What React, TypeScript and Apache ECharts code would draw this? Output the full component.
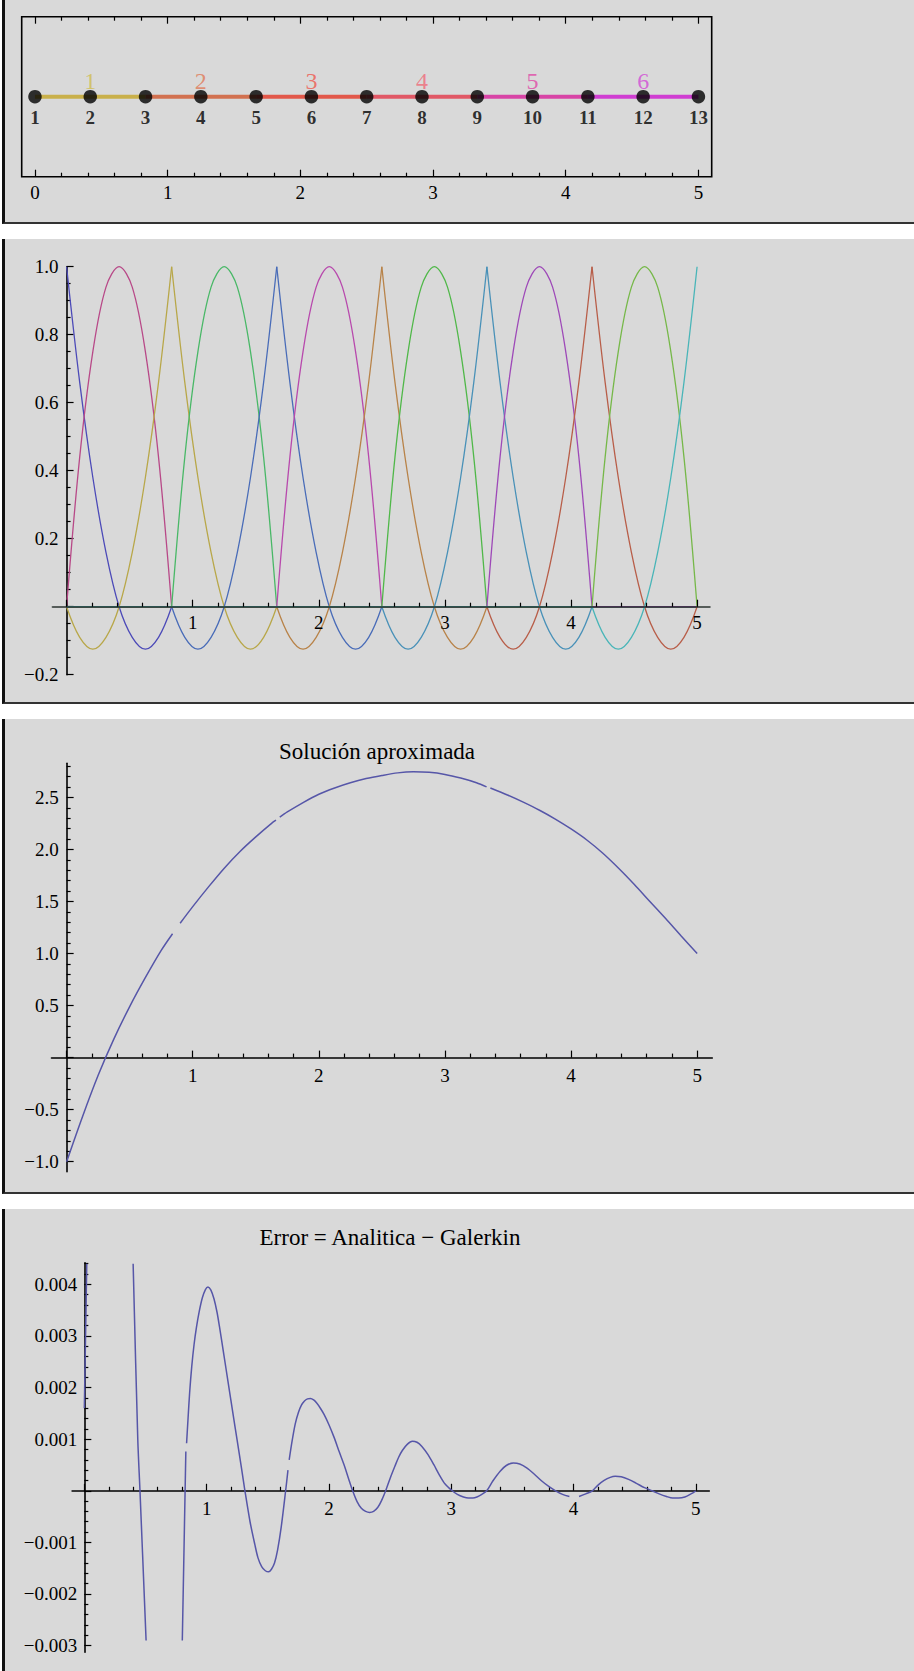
import React, { useEffect, useRef } from 'react';
import * as echarts from 'echarts';

const W = 914;
const H = 1671;
const FONT = "'Liberation Serif', 'Times New Roman', 'DejaVu Serif', serif";

// ---------- Panel 1: mesh (13 nodes, 6 quadratic elements) ----------
const NODE_X = [0, 0.4167, 0.8333, 1.25, 1.6667, 2.0833, 2.5, 2.9167, 3.3333, 3.75, 4.1667, 4.5833, 5];
const NODE_LABELS = ['1', '2', '3', '4', '5', '6', '7', '8', '9', '10', '11', '12', '13'];
const ELEMENT_LABELS = ['1', '2', '3', '4', '5', '6'];
const ELEMENT_LINE_COLORS = ['#c9b04a', '#d27150', '#e2584a', '#e15866', '#d844a6', '#d03ed2'];
const ELEMENT_LABEL_COLORS = ['#d0bc50', '#e07a58', '#ee5a50', '#f06a78', '#e048a6', '#d24cd6'];
const MESH_X_TICKS = [0, 1, 2, 3, 4, 5];

// ---------- Panel 2: basis functions (values read at local positions inside an element) ----------
const BASIS_COLORS = ['#4c4ab8', '#b84988', '#b8a749', '#49b867', '#496cb8', '#b849ad', '#b88349',
  '#50b849', '#4991b8', '#9e49b8', '#b85e49', '#76b849', '#49b5b8'];
const LOCAL_XI = [0, 0.125, 0.25, 0.375, 0.5, 0.625, 0.75, 0.875, 1];
const SHAPE_MID = [0, 0.44, 0.75, 0.94, 1, 0.94, 0.75, 0.44, 0];
const SHAPE_START = [1, 0.66, 0.38, 0.16, 0, -0.09, -0.125, -0.09, 0];
const SHAPE_END = [0, -0.09, -0.125, -0.09, 0, 0.16, 0.38, 0.66, 1];

// ---------- Panel 3: approximate solution ('-' = gap in the drawn curve) ----------
const SOLUTION: [number, number | string][] = [
  [0, -1.0], [0.125, -0.57], [0.25, -0.17], [0.375, 0.18], [0.5, 0.49], [0.625, 0.77], [0.75, 1.03],
  [0.84, 1.19], [0.87, '-'], [0.9, 1.29], [1.0, 1.45], [1.125, 1.64], [1.25, 1.82], [1.375, 1.98],
  [1.5, 2.12], [1.625, 2.25], [1.66, 2.28], [1.675, '-'], [1.69, 2.31], [1.75, 2.36], [1.875, 2.45],
  [2.0, 2.53], [2.125, 2.59], [2.25, 2.64], [2.375, 2.68], [2.5, 2.71], [2.625, 2.735], [2.75, 2.745],
  [2.875, 2.74], [3.0, 2.72], [3.125, 2.685], [3.25, 2.64], [3.33, 2.6], [3.345, '-'], [3.36, 2.59],
  [3.5, 2.52], [3.625, 2.451], [3.75, 2.376], [3.875, 2.291], [4.0, 2.196], [4.125, 2.09], [4.25, 1.965],
  [4.375, 1.821], [4.5, 1.665], [4.625, 1.5], [4.75, 1.336], [4.875, 1.166], [5.0, 1.0],
];

// ---------- Panel 4: error ('-' = gap / clipped part) ----------
const ERROR: [number, number | string][] = [
  [0.0, 0.0016], [0.02, 0.0044], [0.2, '-'],
  [0.399, 0.0044], [0.437, 0.001], [0.455, 0], [0.505, -0.0029], [0.65, '-'],
  [0.801, -0.0029], [0.83, 0.00076], [0.833, '-'],
  [0.836, 0.00092], [0.848, 0.0014], [0.861, 0.0019], [0.878, 0.0024], [0.897, 0.00283],
  [0.917, 0.00317], [0.94, 0.00348], [0.965, 0.00374], [0.99, 0.0039], [1.011, 0.00395],
  [1.035, 0.00389], [1.06, 0.00372], [1.085, 0.00346], [1.105, 0.00318], [1.14, 0.00265],
  [1.177, 0.00208], [1.215, 0.0015], [1.25, 0.00097], [1.285, 0.00044], [1.313, 0],
  [1.355, -0.0006], [1.394, -0.00104], [1.42, -0.0013], [1.45, -0.00147], [1.48, -0.00155],
  [1.507, -0.00157], [1.53, -0.00152], [1.555, -0.0014], [1.58, -0.00115], [1.61, -0.0007],
  [1.646, 0], [1.665, 0.0004], [1.67, '-'],
  [1.675, 0.0006], [1.7, 0.00098], [1.725, 0.0013], [1.751, 0.00152], [1.775, 0.00166],
  [1.8, 0.00174], [1.825, 0.00178], [1.849, 0.00179], [1.875, 0.00176], [1.9, 0.0017],
  [1.93, 0.0016], [1.96, 0.00148], [2.0, 0.00128], [2.043, 0.00103], [2.085, 0.00075],
  [2.127, 0.00048], [2.16, 0.00024], [2.194, 0], [2.23, -0.00021], [2.265, -0.00034],
  [2.3, -0.0004], [2.333, -0.00042], [2.365, -0.0004], [2.4, -0.00032], [2.43, -0.00019],
  [2.464, 0], [2.5, 0.00024], [2.54, 0.00048], [2.57, 0.00065], [2.6, 0.00078], [2.64, 0.0009],
  [2.682, 0.00096], [2.72, 0.00094], [2.76, 0.00086], [2.81, 0.0007], [2.859, 0.0005],
  [2.9, 0.00032], [2.95, 0.00013], [3.008, 0], [3.05, -0.00007], [3.1, -0.00012], [3.14, -0.00014],
  [3.177, -0.00014], [3.21, -0.00012], [3.25, -0.00007], [3.29, 0], [3.34, 0.00019], [3.4, 0.00038],
  [3.45, 0.00049], [3.508, 0.00054], [3.56, 0.00052], [3.62, 0.00044], [3.68, 0.00032],
  [3.74, 0.00019], [3.8, 0.00008], [3.853, 0], [3.91, -0.00007], [3.966, -0.00011], [4.0, '-'],
  [4.045, -0.00011], [4.1, -0.00006], [4.154, 0], [4.2, 0.00011], [4.25, 0.0002], [4.3, 0.00026],
  [4.341, 0.00028], [4.39, 0.00027], [4.45, 0.00022], [4.51, 0.00015], [4.58, 0.00006], [4.642, 0],
  [4.7, -0.00006], [4.76, -0.00011], [4.81, -0.00014], [4.859, -0.00014], [4.91, -0.00012],
  [4.96, -0.00006], [5.0, 0],
];

// ---------- Tick values ----------
const X_MAJOR = [0, 1, 2, 3, 4, 5];
const X_LABELS = [1, 2, 3, 4, 5];
const X_MINOR = [0.2, 0.4, 0.6, 0.8, 1.2, 1.4, 1.6, 1.8, 2.2, 2.4, 2.6, 2.8, 3.2, 3.4, 3.6, 3.8, 4.2, 4.4, 4.6, 4.8];
const Y2_MAJOR = [-0.2, 0, 0.2, 0.4, 0.6, 0.8, 1.0];
const Y2_LABELS = [-0.2, 0.2, 0.4, 0.6, 0.8, 1.0];
const Y3_MAJOR = [-1.0, -0.5, 0, 0.5, 1.0, 1.5, 2.0, 2.5];
const Y3_LABELS = [-1.0, -0.5, 0.5, 1.0, 1.5, 2.0, 2.5];
const Y4_MAJOR = [-0.003, -0.002, -0.001, 0, 0.001, 0.002, 0.003, 0.004];
const Y4_LABELS = [-0.003, -0.002, -0.001, 0.001, 0.002, 0.003, 0.004];

function minorsBetween(from: number, to: number, step: number, majorStep: number): number[] {
  const out: number[] = [];
  const n = Math.round((to - from) / step);
  for (let k = 0; k <= n; k++) {
    const v = Math.round((from + k * step) * 1e7) / 1e7;
    const r = v / majorStep;
    if (Math.abs(r - Math.round(r)) > 1e-6) out.push(v);
  }
  return out;
}
const Y2_MINOR = minorsBetween(-0.2, 1.0, 0.05, 0.2);
const Y3_MINOR = minorsBetween(-1.0, 2.8, 0.1, 0.5);
const Y4_MINOR = minorsBetween(-0.003, 0.0044, 0.0002, 0.001);

const fmt = (d: number) => (v: number) => (v < 0 ? '\u2212' : '') + Math.abs(v).toFixed(d);
const intFmt = (v: number) => String(v);

type AxisOpt = {
  gridIndex: number; min: number; max: number; ticks: number[]; tickLen: number;
  labels?: number[]; formatter?: (v: number) => string; line?: boolean; position: string;
  margin?: number; z?: number; lineColor?: string; lineWidth?: number;
};
function visAxis(o: AxisOpt) {
  return {
    type: 'value', gridIndex: o.gridIndex, min: o.min, max: o.max, position: o.position,
    z: o.z ?? 0,
    splitLine: { show: false },
    axisPointer: { show: false },
    axisLine: { show: !!o.line, onZero: false, lineStyle: { color: o.lineColor ?? '#000', width: o.lineWidth ?? 1.6 } },
    axisTick: { show: true, inside: true, length: o.tickLen, customValues: o.ticks, lineStyle: { color: '#000', width: 1.2 } },
    axisLabel: o.labels
      ? { show: true, customValues: o.labels, formatter: o.formatter, margin: o.margin ?? 8, fontFamily: FONT, fontSize: 19, color: '#000' }
      : { show: false },
  };
}
function hidAxis(gridIndex: number, min: number, max: number) {
  return { type: 'value', gridIndex, min, max, show: false, splitLine: { show: false }, axisPointer: { show: false } };
}

type PanelCfg = {
  left: number; top: number; width: number; height: number;
  xMin: number; xMax: number; yMin: number; yMax: number;
  yMajor: number[]; yMinor: number[]; yLabels: number[]; yFmt: (v: number) => string;
  xMargin: number; yMargin: number; xAxisZ?: number; xLineColor?: string; xLineWidth?: number;
};

function buildOption() {
  const grid: any[] = [];
  const xAxis: any[] = [];
  const yAxis: any[] = [];
  const series: any[] = [];
  const gridBase = { containLabel: false, outerBoundsMode: 'none' };

  // ----- Panel 1 -----
  grid.push({ ...gridBase, left: 21.7, top: 16.7, width: 690, height: 160, show: true, borderColor: '#000', borderWidth: 1.6, backgroundColor: 'transparent' });
  const G1 = { min: -0.1, max: 5.1 };
  const x1 = xAxis.length;
  xAxis.push(visAxis({ gridIndex: 0, ...G1, ticks: X_MAJOR, tickLen: 7, labels: MESH_X_TICKS, formatter: intFmt, position: 'bottom', margin: 6 }));
  xAxis.push(visAxis({ gridIndex: 0, ...G1, ticks: X_MINOR, tickLen: 4, position: 'bottom' }));
  xAxis.push(visAxis({ gridIndex: 0, ...G1, ticks: X_MAJOR, tickLen: 7, position: 'top' }));
  xAxis.push(visAxis({ gridIndex: 0, ...G1, ticks: X_MINOR, tickLen: 4, position: 'top' }));
  const y1 = yAxis.length;
  yAxis.push(hidAxis(0, -1, 1));

  ELEMENT_LABELS.forEach((_, e) => {
    series.push({
      type: 'line', xAxisIndex: x1, yAxisIndex: y1, silent: true, z: 2,
      data: [[NODE_X[2 * e], 0], [NODE_X[2 * e + 2], 0]], showSymbol: false, symbol: 'none',
      lineStyle: { color: ELEMENT_LINE_COLORS[e], width: 4 },
    });
  });
  series.push({
    type: 'scatter', xAxisIndex: x1, yAxisIndex: y1, silent: true, z: 3,
    data: NODE_X.map((x, i) => ({ value: [x, 0], name: NODE_LABELS[i] })),
    symbol: 'circle', symbolSize: 13.5, itemStyle: { color: '#000' },
    label: { show: true, position: 'bottom', distance: 5, formatter: (p: any) => p.name, fontFamily: FONT, fontSize: 19, fontWeight: 'bold', color: '#000' },
  });
  series.push({
    type: 'scatter', xAxisIndex: x1, yAxisIndex: y1, silent: true, z: 4,
    data: ELEMENT_LABELS.map((lab, e) => ({ value: [NODE_X[2 * e + 1], 0], name: lab, label: { color: ELEMENT_LABEL_COLORS[e] } })),
    symbol: 'circle', symbolSize: 13.5, itemStyle: { color: 'rgba(0,0,0,0)' },
    label: { show: true, position: 'top', distance: -3, formatter: (p: any) => p.name, fontFamily: FONT, fontSize: 24 },
  });

  // ----- Panels 2-4: a data grid plus two helper grids carrying the axes through the origin -----
  function addPanel(c: PanelCfg) {
    const kx = c.width / (c.xMax - c.xMin);
    const ky = c.height / (c.yMax - c.yMin);
    const x0 = c.left + (0 - c.xMin) * kx;
    const gMain = grid.length;
    grid.push({ ...gridBase, left: c.left, top: c.top, width: c.width, height: c.height });
    const gX = grid.length;
    grid.push({ ...gridBase, left: c.left, top: c.top, width: c.width, height: c.yMax * ky });
    const gY = grid.length;
    grid.push({ ...gridBase, left: x0, top: c.top, width: c.xMax * kx, height: c.height });

    const xi = xAxis.length;
    xAxis.push(hidAxis(gMain, c.xMin, c.xMax));
    xAxis.push(visAxis({ gridIndex: gX, min: c.xMin, max: c.xMax, ticks: X_MAJOR, tickLen: 7, labels: X_LABELS, formatter: intFmt, line: true, position: 'bottom', margin: c.xMargin, z: c.xAxisZ, lineColor: c.xLineColor, lineWidth: c.xLineWidth }));
    xAxis.push(visAxis({ gridIndex: gX, min: c.xMin, max: c.xMax, ticks: X_MINOR, tickLen: 4, position: 'bottom', z: c.xAxisZ }));
    xAxis.push(hidAxis(gY, 0, c.xMax));

    const yi = yAxis.length;
    yAxis.push(hidAxis(gMain, c.yMin, c.yMax));
    yAxis.push(hidAxis(gX, 0, c.yMax));
    yAxis.push(visAxis({ gridIndex: gY, min: c.yMin, max: c.yMax, ticks: c.yMajor, tickLen: 7, labels: c.yLabels, formatter: c.yFmt, line: true, position: 'left', margin: c.yMargin }));
    yAxis.push(visAxis({ gridIndex: gY, min: c.yMin, max: c.yMax, ticks: c.yMinor, tickLen: 4, position: 'left' }));
    return { xi, yi };
  }

  const p2 = addPanel({
    left: 52.7, top: 266.7, width: 657, height: 408, xMin: -0.11, xMax: 5.1, yMin: -0.2, yMax: 1.0,
    yMajor: Y2_MAJOR, yMinor: Y2_MINOR, yLabels: Y2_LABELS, yFmt: fmt(1), xMargin: 6, yMargin: 8,
    xAxisZ: 5, xLineColor: 'rgba(35,45,40,0.72)', xLineWidth: 2.2,
  });
  const p3 = addPanel({
    left: 51.5, top: 763.3, width: 660.8, height: 408.4, xMin: -0.12, xMax: 5.12, yMin: -1.096, yMax: 2.827,
    yMajor: Y3_MAJOR, yMinor: Y3_MINOR, yLabels: Y3_LABELS, yFmt: fmt(1), xMargin: 8, yMargin: 8,
  });
  const p4 = addPanel({
    left: 72.1, top: 1262.7, width: 637.2, height: 389.6, xMin: -0.1, xMax: 5.11, yMin: -0.00313, yMax: 0.00442,
    yMajor: Y4_MAJOR, yMinor: Y4_MINOR, yLabels: Y4_LABELS, yFmt: fmt(3), xMargin: 8, yMargin: 7,
  });

  // Panel 2: basis functions, one piece per element
  for (let f = 0; f < NODE_X.length; f++) {
    for (let e = 0; e < ELEMENT_LABELS.length; e++) {
      let shape: number[] | null = null;
      if (f % 2 === 1 && e === (f - 1) / 2) shape = SHAPE_MID;
      else if (f % 2 === 0 && e === f / 2) shape = SHAPE_START;
      else if (f % 2 === 0 && e === f / 2 - 1) shape = SHAPE_END;
      const xa = NODE_X[2 * e];
      const xb = NODE_X[2 * e + 2];
      const data = shape
        ? LOCAL_XI.map((t, k) => [xa + t * (xb - xa), (shape as number[])[k]])
        : [[xa, 0], [xb, 0]];
      series.push({
        type: 'line', xAxisIndex: p2.xi, yAxisIndex: p2.yi, silent: true, z: 2,
        data, smooth: shape ? 0.35 : false, showSymbol: false, symbol: 'none',
        lineStyle: { color: BASIS_COLORS[f], width: 1.3 },
      });
    }
  }

  series.push({
    type: 'line', xAxisIndex: p3.xi, yAxisIndex: p3.yi, silent: true, z: 2,
    data: SOLUTION, smooth: 0.3, connectNulls: false, showSymbol: false, symbol: 'none',
    lineStyle: { color: '#5656a8', width: 1.5 },
  });
  series.push({
    type: 'line', xAxisIndex: p4.xi, yAxisIndex: p4.yi, silent: true, z: 2, clip: true,
    data: ERROR, smooth: 0.3, connectNulls: false, showSymbol: false, symbol: 'none',
    lineStyle: { color: '#5656a8', width: 1.5 },
  });

  return {
    animation: false,
    backgroundColor: 'transparent',
    grid, xAxis, yAxis, series,
    graphic: [
      {
        type: 'text', x: 377, y: 751, silent: true,
        style: { text: 'Solución aproximada', font: `23px ${FONT}`, fill: '#000', align: 'center', verticalAlign: 'middle', textAlign: 'center', textVerticalAlign: 'middle' },
      },
      {
        type: 'text', x: 390, y: 1237, silent: true,
        style: { text: 'Error = Analitica \u2212 Galerkin', font: `23px ${FONT}`, fill: '#000', align: 'center', verticalAlign: 'middle', textAlign: 'center', textVerticalAlign: 'middle' },
      },
    ],
  };
}

const PANELS = [
  { top: 0, height: 224, bottom: true },
  { top: 239, height: 465, bottom: true },
  { top: 719, height: 475, bottom: true },
  { top: 1209, height: 462, bottom: false },
];

export default function App() {
  const ref = useRef<HTMLDivElement>(null);
  useEffect(() => {
    if (!ref.current) return;
    const chart = echarts.init(ref.current, undefined, { renderer: 'svg' });
    chart.setOption(buildOption() as any);
    return () => chart.dispose();
  }, []);
  return (
    <div style={{ position: 'absolute', left: 0, top: 0, width: W, height: H, background: '#fff', overflow: 'hidden' }}>
      {PANELS.map((p, i) => (
        <div
          key={i}
          style={{
            position: 'absolute', left: 2, top: p.top, width: W - 2, height: p.height,
            boxSizing: 'border-box', background: '#d9d9d9',
            borderLeft: '3px solid #111',
            borderBottom: p.bottom ? '2.5px solid #333' : 'none',
          }}
        />
      ))}
      <div ref={ref} style={{ position: 'absolute', left: 0, top: 0, width: W, height: H }} />
    </div>
  );
}
